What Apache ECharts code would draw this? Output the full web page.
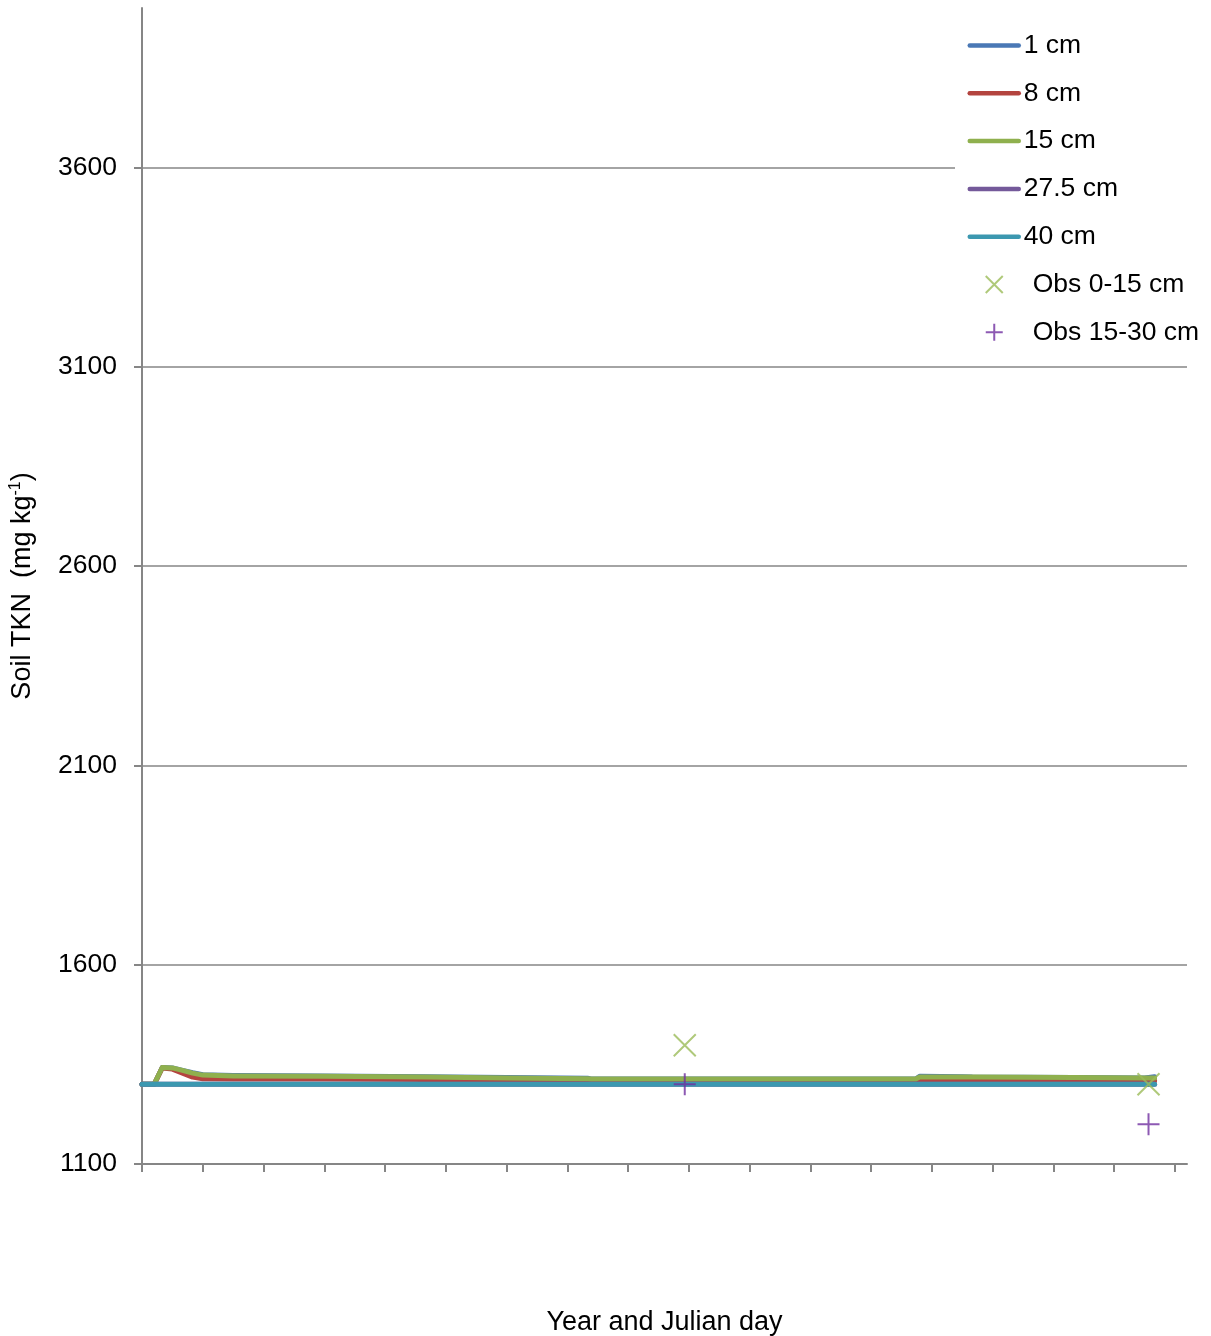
<!DOCTYPE html>
<html>
<head>
<meta charset="utf-8">
<script src="https://cdn.jsdelivr.net/npm/echarts@6/dist/echarts.min.js"></script>
<style>
html,body{margin:0;padding:0;background:#fff;}
#chart{width:1211px;height:1336px;}
</style>
</head>
<body>
<div id="chart"></div>
<script>
// Simulation day (x) shared by the modelled depth series
const days = [0, 6, 10, 15, 20, 25, 30, 45, 90, 140, 180, 220, 222, 300, 382, 384, 405, 410, 460, 495, 500];
const tkn1cm  = [1300, 1300, 1342, 1341, 1335, 1329, 1324, 1322, 1321, 1319, 1317, 1315, 1313, 1313, 1313, 1320, 1319, 1318, 1317, 1316, 1319];
const tkn8cm  = [1300, 1300, 1341, 1338, 1328, 1318, 1314, 1313, 1313, 1312, 1311, 1310, 1310, 1309, 1309, 1309, 1309, 1309, 1309, 1309, 1309];
const tkn15cm = [1300, 1300, 1342, 1341, 1335, 1328, 1323, 1321, 1320, 1318, 1316, 1314, 1313, 1313, 1313, 1318, 1318, 1318, 1317, 1316, 1316];
const tkn27cm = [1300, 1300, 1300, 1300, 1300, 1300, 1300, 1300, 1300, 1300, 1300, 1300, 1300, 1300, 1300, 1300, 1300, 1300, 1300, 1300, 1300];
const tkn40cm = [1300, 1300, 1300, 1300, 1300, 1300, 1300, 1300, 1300, 1300, 1300, 1300, 1300, 1300, 1300, 1300, 1300, 1300, 1300, 1300, 1300];
// Observations
const obsDays = [268, 497];
const obs0_15 = [1398, 1300];
const obs15_30 = [1300, 1200];
// Axis ticks
const yTicks = [1100, 1600, 2100, 2600, 3100, 3600];
const xTicks = [0, 30, 60, 90, 120, 150, 180, 210, 240, 270, 300, 330, 360, 390, 420, 450, 480, 510];
const seriesNames = ['1 cm', '8 cm', '15 cm', '27.5 cm', '40 cm', 'Obs 0-15 cm', 'Obs 15-30 cm'];

const zip = (xs, ys) => xs.map((x, i) => [x, ys[i]]);
const FONT = '"Liberation Sans", Arial, sans-serif';
const lineColors = ['#4A78B5', '#B4443F', '#8FB04E', '#74599A', '#3C98B0'];
const lineData = [tkn1cm, tkn8cm, tkn15cm, tkn27cm, tkn40cm];

const lineSeries = lineData.map((vals, i) => ({
  name: seriesNames[i],
  type: 'line',
  data: zip(days, vals),
  symbol: 'none',
  color: lineColors[i],
  lineStyle: { width: 5, color: lineColors[i], cap: 'round', join: 'round' },
  z: 2 + i
}));

const chart = echarts.init(document.getElementById('chart'), null, { renderer: 'canvas' });
chart.setOption({
  animation: false,
  backgroundColor: '#fff',
  textStyle: { fontFamily: FONT },
  grid: { left: 142, right: 24, top: 8, bottom: 172, containLabel: false, outerBoundsMode: 'none' },
  legend: {
    orient: 'vertical',
    left: 955,
    top: 22,
    padding: [10, 10, 10, 12.5],
    backgroundColor: '#fff',
    itemWidth: 49,
    itemHeight: 17,
    itemGap: 20.8,
    textStyle: { fontSize: 26.5, color: '#000', fontFamily: FONT },
    data: seriesNames.map((n, i) => i < 5
      ? { name: n, itemStyle: { opacity: 0 }, lineStyle: { width: 4.5, cap: 'round', color: lineColors[i], opacity: 1 } }
      : { name: n, textStyle: { padding: [0, 0, 0, 9] } })
  },
  xAxis: {
    type: 'value',
    min: 0,
    max: 516,
    name: 'Year and Julian day',
    nameLocation: 'middle',
    nameGap: 145,
    nameTextStyle: { fontSize: 27, color: '#000', fontFamily: FONT },
    axisLine: { show: true, lineStyle: { color: '#868686', width: 2 } },
    axisTick: { show: true, inside: false, length: 8, customValues: xTicks, lineStyle: { color: '#868686', width: 2 } },
    axisLabel: { show: false },
    splitLine: { show: false }
  },
  yAxis: {
    type: 'value',
    min: 1100,
    max: 4000,
    interval: 500,
    name: '{n|Soil TKN  (mg kg}{s|-1}{n|)}',
    nameLocation: 'middle',
    nameRotate: 90,
    nameGap: 104,
    nameTextStyle: {
      color: '#000',
      rich: {
        n: { fontSize: 27, fontFamily: FONT, color: '#000', lineHeight: 30 },
        s: { fontSize: 16, fontFamily: FONT, color: '#000', verticalAlign: 'top', lineHeight: 17 }
      }
    },
    axisLine: { show: true, lineStyle: { color: '#868686', width: 2 } },
    axisTick: { show: true, inside: false, length: 8, customValues: yTicks, lineStyle: { color: '#868686', width: 2 } },
    axisLabel: { show: true, customValues: yTicks, margin: 25, fontSize: 26.5, color: '#000', fontFamily: FONT, formatter: v => String(v) },
    splitLine: { show: true, lineStyle: { color: '#868686', width: 1.5 } }
  },
  series: lineSeries.concat([
    {
      name: seriesNames[5],
      type: 'scatter',
      data: zip(obsDays, obs0_15),
      symbol: 'path://M0,0L10,10M10,0L0,10',
      symbolSize: 22,
      itemStyle: { color: '#9BBB59', borderColor: '#9BBB59', borderWidth: 2 },
      z: 10
    },
    {
      name: seriesNames[6],
      type: 'scatter',
      data: zip(obsDays, obs15_30),
      symbol: 'path://M5,0L5,10M0,5L10,5',
      symbolSize: 22,
      itemStyle: { color: '#7030A0', borderColor: '#7030A0', borderWidth: 2 },
      z: 10
    }
  ])
});
</script>
</body>
</html>
